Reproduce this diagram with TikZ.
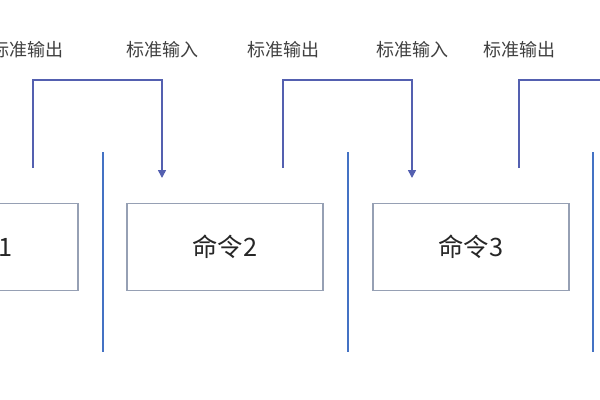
\documentclass[tikz,border=0pt]{standalone}
\usepackage{fontspec}
\usetikzlibrary{arrows.meta}
\newfontfamily\cjk{Noto Sans CJK SC}
\tikzset{every picture/.style={line width=0.9pt}}
\definecolor{pipeblue}{RGB}{68,114,196}
\definecolor{flowblue}{RGB}{84,96,176}
\definecolor{boxgray}{RGB}{150,160,180}
\tikzset{
  cmdbox/.style={draw=boxgray,line width=0.8pt,minimum width=147pt,minimum height=65pt,inner sep=0pt,font=\cjk\fontsize{19}{19}\selectfont,text=black!85},
  streamlbl/.style={font=\cjk\fontsize{13.5}{14}\selectfont,text=black!75,inner sep=0.75pt},
  pipe/.style={draw=pipeblue,line width=1.6pt},
  flow/.style={draw=flowblue,line width=1.2pt}
}
\begin{document}
\begin{tikzpicture}[x=0.75pt,y=0.75pt,yscale=-1]
\useasboundingbox (0,0) rectangle (600,400);

% Commands
\node[cmdbox] (cmdA) at (-20,247) {命令1};
\node[cmdbox] (cmdB) at (225,247) {命令2};
\node[cmdbox] (cmdC) at (471,247) {命令3};

% Pipes
\coordinate (pAtop) at (103,152); \coordinate (pAbot) at (103,352);
\coordinate (pBtop) at (348,152); \coordinate (pBbot) at (348,352);
\coordinate (pCtop) at (593,152); \coordinate (pCbot) at (593,352);
\draw[pipe] (pAtop) -- (pAbot);
\draw[pipe] (pBtop) -- (pBbot);
\draw[pipe] (pCtop) -- (pCbot);

% Streams
\coordinate (outA) at (33,168); \coordinate (inB) at (162,178);
\coordinate (outB) at (283,168); \coordinate (inC) at (412,178);
\coordinate (outC) at (519,168); \coordinate (inD) at (640,178);
\draw[flow,-{Triangle[length=6pt,width=6pt]}] (outA) |- (97.5,80) -| (inB);
\draw[flow,-{Triangle[length=6pt,width=6pt]}] (outB) |- (347.5,80) -| (inC);
\draw[flow] (outC) |- (inD |- 0,80);

% Labels
\node[streamlbl] (soA) at (28,50) {标准输出};
\node[streamlbl] (siB) at (162,50) {标准输入};
\node[streamlbl] (soB) at (283,50) {标准输出};
\node[streamlbl] (siC) at (412,50) {标准输入};
\node[streamlbl] (soC) at (519,50) {标准输出};
\end{tikzpicture}
\end{document}
